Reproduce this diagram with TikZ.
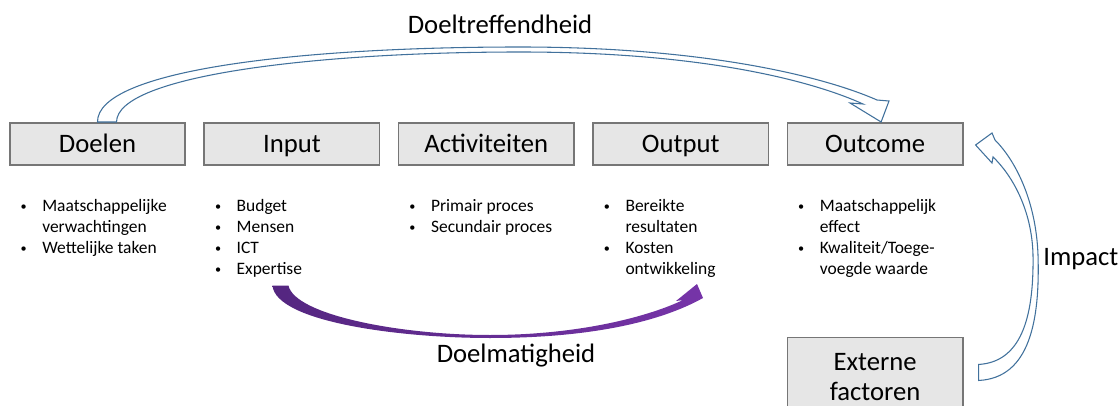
\documentclass[tikz,border=0pt]{standalone}
\usepackage{fontspec}
\setmainfont{Carlito}
\usepackage{graphicx}
\usepackage{tikz}
\usetikzlibrary{positioning}
\usetikzlibrary{calc}
\definecolor{boxgray}{RGB}{230,230,230}
\definecolor{boxline}{RGB}{118,118,118}
\definecolor{arcblue}{RGB}{65,113,156}
\definecolor{arcpurple}{RGB}{118,52,168}
\definecolor{arcpurpledark}{RGB}{84,38,128}
\newcommand{\itm}{\makebox[17.25pt][l]{\hspace*{1pt}\raisebox{0.15ex}{\scalebox{0.7}{\textbullet}}}}
\newcommand{\cnt}{\hspace*{17.25pt}}
\tikzset{stage/.style={draw=boxline, fill=boxgray, line width=1.2pt, minimum width=131.5pt, minimum height=31.8pt, inner sep=0pt, text height=17pt, text depth=4pt, font=\fontsize{20pt}{22.5pt}\selectfont}}
\tikzset{items/.style={anchor=north west, inner sep=0pt, align=left, font=\fontsize{13.1pt}{15.75pt}\selectfont}}
\tikzset{arctext/.style={inner sep=0pt, anchor=base, font=\fontsize{20pt}{24pt}\selectfont}}
\tikzset{hollow/.style={draw=arcblue, fill=white, line width=0.8pt, line join=miter}}

\begin{document}
\begin{tikzpicture}[x=0.75pt,y=-0.75pt]
\useasboundingbox (0,0) rectangle (1120,406);
% boxes
\node[stage] (doelen) at (97.5,144) {Doelen};
\node[stage, right=13.1pt of doelen] (input) {Input};
\node[stage, right=13.1pt of input] (activiteiten) {Activiteiten};
\node[stage, right=13.1pt of activiteiten] (output) {Output};
\node[stage, right=13.1pt of output] (outcome) {Outcome};
\node[stage, below=128pt of outcome, minimum height=60pt, text height=, text depth=, align=center] (externe) {Externe\\factoren};
% lists
\node[items] (doelenlist) at ($(doelen.south west)+(10,31)$) {\itm\strut Maatschappelijke\\\cnt\strut verwachtingen\\\itm\strut Wettelijke taken};
\node[items] (inputlist) at ($(input.south west)+(10,31)$) {\itm\strut Budget\\\itm\strut Mensen\\\itm\strut ICT\\\itm\strut Expertise};
\node[items] (activiteitenlist) at ($(activiteiten.south west)+(10,31)$) {\itm\strut Primair proces\\\itm\strut Secundair proces};
\node[items] (outputlist) at ($(output.south west)+(10,31)$) {\itm\strut Bereikte\\\cnt\strut resultaten\\\itm\strut Kosten\\\cnt\strut ontwikkeling};
\node[items] (outcomelist) at ($(outcome.south west)+(10,31)$) {\itm\strut Maatschappelijk\\\cnt\strut effect\\\itm\strut Kwaliteit/Toege-\\\cnt\strut voegde waarde};
% titles
\node[arctext] (treffend) at (500,34) {Doeltreffendheid};
\node[arctext] (matig) at (516,362) {Doelmatigheid};
\node[arctext, anchor=base west] (impact) at (1043,265) {Impact};
% Doeltreffendheid
\draw[hollow] (doelen.north) .. controls (97,70) and (300,47) .. (520,47) .. controls (700,47) and (820,75) .. (877,100) -- (889,101) -- ($(outcome.north)+(6,0)$) -- (850,103) -- (863,104) .. controls (810,80) and (700,52) .. (520,52) .. controls (320,52) and (117,75) .. ($(doelen.north)+(19,0)$) -- cycle;
% Doelmatigheid
\shade[left color=arcpurpledark, right color=arcpurple] ($(inputlist.south west)+(59,4)$) .. controls (276,322) and (400,338) .. (490,338) .. controls (590,338) and (660,322) .. (703,298) -- (697,284) -- (676,301) -- (683,300) .. controls (650,316) and (580,335) .. (490,335) .. controls (400,335) and (295,315) .. ($(inputlist.south west)+(75,4)$) -- cycle;
% Impact
\draw[hollow] ($(externe.east)+(15,3)$) .. controls (1030,378) and (1040,320) .. (1038,255) .. controls (1036,200) and (1015,160) .. (995,140) -- (992,133) -- ($(outcome.east)+(12,1)$) -- (992,163) -- (993,157) .. controls (1012,175) and (1032,210) .. (1033,255) .. controls (1034,320) and (1020,362) .. ($(externe.east)+(15,-13)$) -- cycle;
\end{tikzpicture}
\end{document}
